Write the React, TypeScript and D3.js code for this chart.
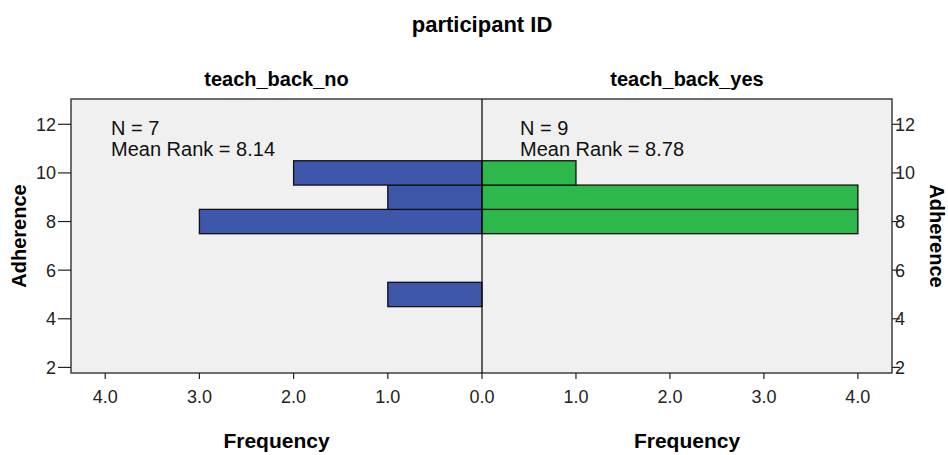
import React from "react";
import { scaleLinear } from "d3";

// adherence score bins and frequencies per group
const adherence = [5, 8, 9, 10];
const freqNo = [1, 3, 1, 2];
const freqYes = [0, 4, 4, 1];
const groups = ["teach_back_no", "teach_back_yes"];
const stats = [
  { n: 7, meanRank: "8.14" },
  { n: 9, meanRank: "8.78" },
];
const xTicks = [0, 1, 2, 3, 4];
const yTicks = [2, 4, 6, 8, 10, 12];

const W = 948;
const H = 455;
const frame = { left: 71, right: 892, top: 99, bottom: 373 };
const mid = 482;
const font = "'Liberation Sans', Arial, sans-serif";

const blue = "#3e57ab";
const green = "#2eb74a";

export default function App() {
  const xMax = (mid - frame.left) / 94.2;
  const xLeft = scaleLinear().domain([0, xMax]).range([mid, frame.left]);
  const xRight = scaleLinear().domain([0, xMax]).range([mid, frame.right]);
  const y = scaleLinear().domain([1.77, 13.04]).range([frame.bottom, frame.top]);

  const leftCenter = (frame.left + mid) / 2;
  const rightCenter = (mid + frame.right) / 2;

  return (
    <svg
      width={W}
      height={H}
      style={{ position: "absolute", left: 0, top: 0, background: "#fff" }}
      fontFamily={font}
    >
      <text x={mid} y={32} textAnchor="middle" fontSize={22} fontWeight="bold">
        participant ID
      </text>
      <text x={leftCenter} y={86} textAnchor="middle" fontSize={20} fontWeight="bold">
        {groups[0]}
      </text>
      <text x={rightCenter} y={86} textAnchor="middle" fontSize={20} fontWeight="bold">
        {groups[1]}
      </text>

      <rect
        x={frame.left}
        y={frame.top}
        width={frame.right - frame.left}
        height={frame.bottom - frame.top}
        fill="#f0f0f0"
      />

      {/* bars */}
      {adherence.map((a, i) =>
        freqNo[i] > 0 ? (
          <rect
            key={"no" + a}
            x={xLeft(freqNo[i])}
            y={y(a + 0.5)}
            width={mid - xLeft(freqNo[i])}
            height={y(a - 0.5) - y(a + 0.5)}
            fill={blue}
            stroke="#111"
            strokeWidth={1.3}
          />
        ) : null
      )}
      {adherence.map((a, i) =>
        freqYes[i] > 0 ? (
          <rect
            key={"yes" + a}
            x={mid}
            y={y(a + 0.5)}
            width={xRight(freqYes[i]) - mid}
            height={y(a - 0.5) - y(a + 0.5)}
            fill={green}
            stroke="#111"
            strokeWidth={1.3}
          />
        ) : null
      )}

      <rect
        x={frame.left}
        y={frame.top}
        width={frame.right - frame.left}
        height={frame.bottom - frame.top}
        fill="none"
        stroke="#222"
        strokeWidth={1.3}
      />
      <line x1={mid} x2={mid} y1={frame.top} y2={frame.bottom} stroke="#111" strokeWidth={1.3} />

      {/* annotations */}
      {[frame.left + 40, mid + 38].map((x, i) => (
        <g key={"ann" + i} fontSize={20} fill="#111">
          <text x={x} y={135}>N = {stats[i].n}</text>
          <text x={x} y={156}>Mean Rank = {stats[i].meanRank}</text>
        </g>
      ))}

      {/* y axes */}
      {yTicks.map((t) => (
        <g key={"yl" + t}>
          <line x1={58} x2={frame.left} y1={y(t)} y2={y(t)} stroke="#222" strokeWidth={1.2} />
          <text x={56} y={y(t) + 6.5} textAnchor="end" fontSize={18} fill="#222">
            {t}
          </text>
          <line x1={frame.right} x2={900} y1={y(t)} y2={y(t)} stroke="#222" strokeWidth={1.2} />
          <text x={895} y={y(t) + 6.5} fontSize={18} fill="#222">
            {t}
          </text>
        </g>
      ))}

      {/* x axes */}
      {xTicks.map((t) => (
        <g key={"xl" + t}>
          <line x1={xLeft(t)} x2={xLeft(t)} y1={frame.bottom} y2={frame.bottom + 6} stroke="#222" strokeWidth={1.2} />
          <text x={xLeft(t)} y={403} textAnchor="middle" fontSize={18} fill="#222">
            {t.toFixed(1)}
          </text>
          {t > 0 && (
            <g>
              <line x1={xRight(t)} x2={xRight(t)} y1={frame.bottom} y2={frame.bottom + 6} stroke="#222" strokeWidth={1.2} />
              <text x={xRight(t)} y={403} textAnchor="middle" fontSize={18} fill="#222">
                {t.toFixed(1)}
              </text>
            </g>
          )}
        </g>
      ))}

      <text x={leftCenter} y={448} textAnchor="middle" fontSize={21} fontWeight="bold">
        Frequency
      </text>
      <text x={rightCenter} y={448} textAnchor="middle" fontSize={21} fontWeight="bold">
        Frequency
      </text>

      <text
        transform={`translate(26, ${(frame.top + frame.bottom) / 2}) rotate(-90)`}
        textAnchor="middle"
        fontSize={20}
        fontWeight="bold"
      >
        Adherence
      </text>
      <text
        transform={`translate(930, ${(frame.top + frame.bottom) / 2}) rotate(90)`}
        textAnchor="middle"
        fontSize={20}
        fontWeight="bold"
      >
        Adherence
      </text>
    </svg>
  );
}
